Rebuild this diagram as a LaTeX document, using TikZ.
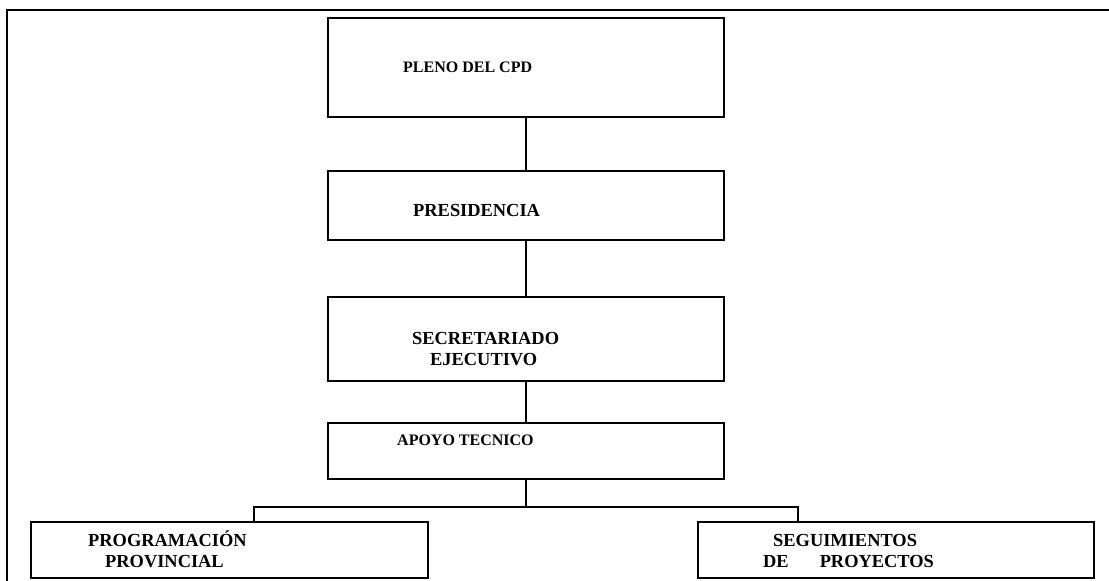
\documentclass[tikz,border=0pt]{standalone}
\usepackage{fontspec}
\setmainfont{Liberation Serif}
\begin{document}
\begin{tikzpicture}[x=1pt,y=-1pt,
  orgbox/.style={draw,line width=1.8pt,rectangle,inner sep=0pt},
  lbl/.style={anchor=base west,inner sep=0pt,font=\fontsize{18.4}{21}\selectfont\bfseries},
  lblsmall/.style={lbl,font=\fontsize{16}{19}\selectfont\bfseries},
  link/.style={line width=1.8pt},
  frame/.style={line width=2.4pt}]
\useasboundingbox (0,0) rectangle (1109,581);
% page frame
\draw[frame] (7,581) -- (7,10) -- (1109,10);
% boxes (corners in pixel coordinates)
\node[orgbox,minimum width=396pt,minimum height=99pt] (pleno) at (526,67.5) {};
\node[orgbox,minimum width=396pt,minimum height=69pt] (pres) at (526,205.5) {};
\node[orgbox,minimum width=396pt,minimum height=84pt] (secr) at (526,339) {};
\node[orgbox,minimum width=396pt,minimum height=56pt] (apoyo) at (526,451) {};
\node[orgbox,minimum width=397pt,minimum height=56pt] (prog) at (229.5,550) {};
\node[orgbox,minimum width=396pt,minimum height=56pt] (segu) at (896,550) {};
% labels
\node[lblsmall] (tpleno) at (403,72) {PLENO DEL CPD};
\node[lbl] (tpres) at (413,216) {PRESIDENCIA};
\node[lbl] (tsecr1) at (412,344) {SECRETARIADO};
\node[lbl] (tsecr2) at (430,365) {EJECUTIVO};
\node[lblsmall] (tapoyo) at (397,445) {APOYO TECNICO};
\node[lbl] (tprog1) at (88,546) {PROGRAMACIÓN};
\node[lbl] (tprog2) at (105,567) {PROVINCIAL};
\node[lbl] (tsegu1) at (773,546) {SEGUIMIENTOS};
\node[lbl] (tsegu2) at (763,567) {DE\hspace{31pt}PROYECTOS};
% connectors
\coordinate (split) at (526,507);
\draw[link] (pleno.south) -- (pres.north);
\draw[link] (pres.south) -- (secr.north);
\draw[link] (secr.south) -- (apoyo.north);
\draw[link] (apoyo.south) -- (split);
\draw[link] (prog.north -| 254,0) |- (split) -| (segu.north -| 798,0);
\end{tikzpicture}
\end{document}
